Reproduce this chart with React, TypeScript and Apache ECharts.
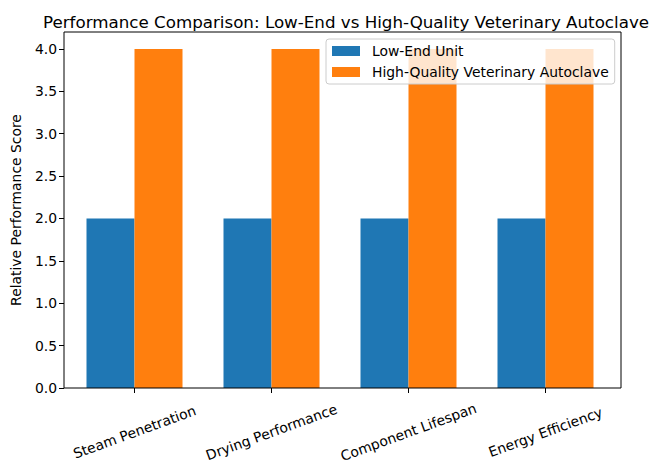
import React, { useEffect, useRef } from "react";
import * as echarts from "echarts";

const categories = ["Steam Penetration", "Drying Performance", "Component Lifespan", "Energy Efficiency"];
const lowEnd = [2, 2, 2, 2];
const highQuality = [4, 4, 4, 4];
const yTicks = [0, 0.5, 1, 1.5, 2, 2.5, 3, 3.5, 4];
const seriesNames = ["Low-End Unit", "High-Quality Veterinary Autoclave"];
const titleText = "Performance Comparison: Low-End vs High-Quality Veterinary Autoclave";
const yName = "Relative Performance Score";

const FONT = "DejaVu Sans";

export default function App() {
  const ref = useRef<HTMLDivElement>(null);
  useEffect(() => {
    if (!ref.current) return;
    const chart = echarts.init(ref.current, null, { renderer: "svg" });
    const top = 32;
    const bottom = 82;
    chart.setOption({
      animation: false,
      backgroundColor: "#fff",
      title: {
        text: titleText,
        left: 341,
        textAlign: "center",
        top: 8,
        textStyle: { fontFamily: FONT, fontSize: 16.7, fontWeight: "normal", color: "#000" },
      },
      legend: {
        orient: "vertical",
        left: 326,
        top: 39,
        padding: [5, 6, 5, 6],
        itemGap: 7,
        itemWidth: 28,
        itemHeight: 10,
        icon: "rect",
        data: seriesNames,
        backgroundColor: "rgba(255,255,255,0.8)",
        borderColor: "#cccccc",
        borderWidth: 1,
        borderRadius: 3,
        textStyle: { fontFamily: FONT, fontSize: 13.9, color: "#000", padding: [0, 0, 0, 7] },
        z: 10,
      },
      grid: [
        { left: 66, width: 548, top, bottom },
        { left: 64, width: 557, top, bottom },
      ],
      xAxis: [
        {
          type: "category",
          gridIndex: 0,
          data: categories,
          axisLine: { show: false },
          axisTick: { show: true, alignWithLabel: true, length: 5, lineStyle: { color: "#000" } },
          axisLabel: {
            rotate: 20,
            align: "center",
            verticalAlign: "middle",
            margin: 44,
            fontFamily: FONT,
            fontSize: 13.9,
            color: "#000",
          },
          splitLine: { show: false },
        },
        { type: "value", gridIndex: 1, show: false },
      ],
      yAxis: [
        { type: "value", gridIndex: 0, min: 0, max: 4.2, show: false },
        {
          type: "value",
          gridIndex: 1,
          min: 0,
          max: 4.2,
          name: yName,
          nameLocation: "middle",
          nameRotate: 90,
          nameGap: 41,
          nameTextStyle: { fontFamily: FONT, fontSize: 13.9, color: "#000" },
          axisLine: { show: false },
          splitLine: { show: false },
          axisTick: { show: true, length: 5, lineStyle: { color: "#000" }, customValues: yTicks },
          axisLabel: {
            customValues: yTicks,
            formatter: (v: number) => v.toFixed(1),
            fontFamily: FONT,
            fontSize: 13.9,
            color: "#000",
            margin: 7,
          },
        },
      ],
      series: [
        {
          name: seriesNames[0],
          type: "bar",
          xAxisIndex: 0,
          yAxisIndex: 0,
          data: lowEnd,
          barWidth: 48,
          barGap: "0%",
          itemStyle: { color: "#1f77b4" },
        },
        {
          name: seriesNames[1],
          type: "bar",
          xAxisIndex: 0,
          yAxisIndex: 0,
          data: highQuality,
          barWidth: 48,
          barGap: "0%",
          itemStyle: { color: "#ff7f0e" },
        },
      ],
      graphic: [
        {
          type: "rect",
          shape: { x: 64, y: top, width: 557, height: 470 - top - bottom },
          style: { fill: "none", stroke: "#000", lineWidth: 1 },
          z: 5,
          silent: true,
        },
      ],
    });
    return () => chart.dispose();
  }, []);
  return <div ref={ref} style={{ position: "absolute", left: 0, top: 0, width: 652, height: 470 }} />;
}
